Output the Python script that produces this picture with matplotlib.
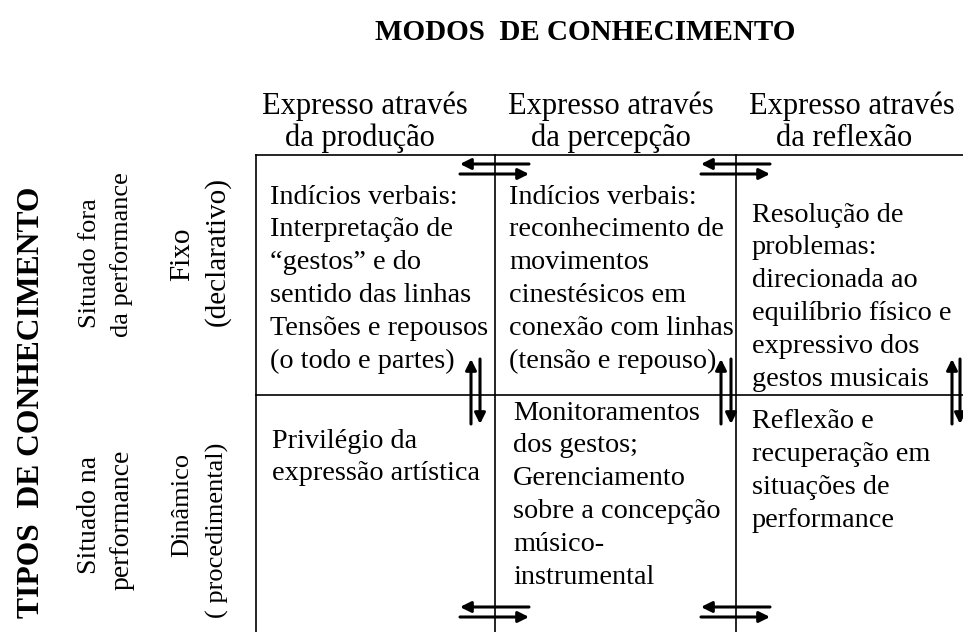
import matplotlib
matplotlib.use("Agg")
import matplotlib.pyplot as plt

plt.rcParams['font.family'] = ['Liberation Serif', 'DejaVu Serif']

title = "MODOS  DE CONHECIMENTO"
side_title = "TIPOS  DE CONHECIMENTO"

col_head_1 = ["Expresso através", "Expresso através", "Expresso através"]
col_head_2 = ["da produção", "da percepção", "da reflexão"]

row_labels = ["Situado fora", "da performance", "Fixo", "(declarativo)",
              "Situado na", "performance", "Dinâmico", "( procedimental)"]

cells_top = [
    ["Indícios verbais:", "Interpretação de", "“gestos” e do",
     "sentido das linhas", "Tensões e repousos", "(o todo e partes)"],
    ["Indícios verbais:", "reconhecimento de", "movimentos",
     "cinestésicos em", "conexão com linhas", "(tensão e repouso)"],
    ["Resolução de", "problemas:", "direcionada ao",
     "equilíbrio físico e", "expressivo dos", "gestos musicais"],
]
cells_bottom = [
    ["Privilégio da", "expressão artística"],
    ["Monitoramentos", "dos gestos;", "Gerenciamento",
     "sobre a concepção", "músico-", "instrumental"],
    ["Reflexão e", "recuperação em", "situações de", "performance"],
]

fig = plt.figure(figsize=(9.63, 6.32), dpi=100)
ax = fig.add_axes([0, 0, 1, 1])
ax.set_xlim(0, 963)
ax.set_ylim(632, 0)
ax.axis('off')

fs = 20.3

# titles
ax.text(585, 33, title, ha='center', va='center', fontsize=21, fontweight='bold')
ax.text(32, 402, side_title, ha='center', va='center', rotation=90,
        fontsize=22.8, fontweight='bold')

# grid lines
lw = 1.2
ax.plot([256, 963], [155, 155], color='black', lw=lw)
ax.plot([256, 963], [395, 395], color='black', lw=lw)
for x in [256, 495, 736]:
    ax.plot([x, x], [155, 632], color='black', lw=lw)

# column headers
head_x1 = [262, 508, 749]
head_x2 = [285, 531, 776]
for i in range(3):
    ax.text(head_x1[i], 106, col_head_1[i], ha='left', va='center', fontsize=22)
    ax.text(head_x2[i], 138, col_head_2[i], ha='left', va='center', fontsize=22)

# row headers (one text per rotated line)
lab_x = [90, 122, 182, 217, 90, 122, 182, 217]
lab_y = [263, 255, 254, 252, 515, 520, 505, 530]
lab_fs = [19, 19, 21, 21, 20, 20, 19, 19]
for i, lab in enumerate(row_labels):
    ax.text(lab_x[i], lab_y[i], lab, ha='center', va='center', rotation=90,
            fontsize=lab_fs[i])

# cells
step = 32.8
top_x = [270, 509, 752]
top_y0 = [197, 197, 215]
bot_x = [272, 513, 752]
bot_y0 = [441, 413, 422]
for i in range(3):
    for j, line in enumerate(cells_top[i]):
        ax.text(top_x[i], top_y0[i] + j * step, line, ha='left', va='center', fontsize=fs)
    for j, line in enumerate(cells_bottom[i]):
        ax.text(bot_x[i], bot_y0[i] + j * step, line, ha='left', va='center', fontsize=fs)

# arrows
aprops = dict(arrowstyle='-|>', lw=2.2, color='black', mutation_scale=16,
              shrinkA=0, shrinkB=0)
for xc in [495, 736]:
    for ya, yb in [(164, 174), (607, 617)]:
        ax.annotate('', xy=(xc - 35, ya), xytext=(xc + 34, ya), arrowprops=aprops)
        ax.annotate('', xy=(xc + 34, yb), xytext=(xc - 35, yb), arrowprops=aprops)
for xu, xd in [(471, 480), (721, 731), (952, 960)]:
    ax.annotate('', xy=(xu, 359), xytext=(xu, 424), arrowprops=aprops)
    ax.annotate('', xy=(xd, 424), xytext=(xd, 359), arrowprops=aprops)

fig.savefig("out.png", dpi=100)
